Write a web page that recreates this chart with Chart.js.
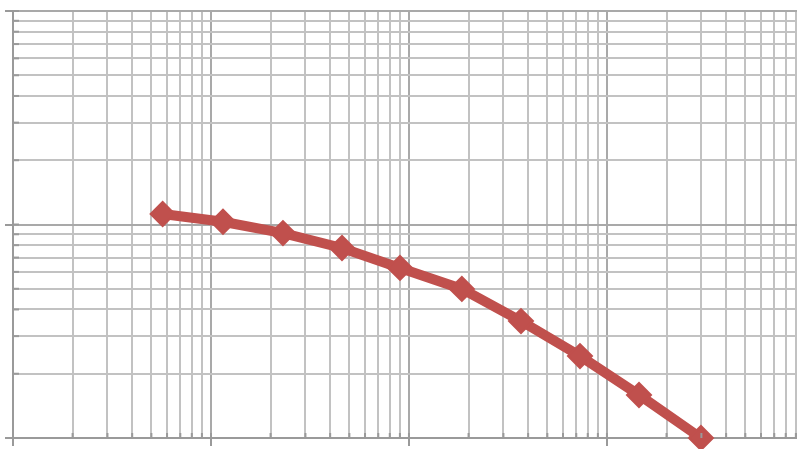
<!DOCTYPE html>
<html>
<head>
<meta charset="utf-8">
<script src="https://cdn.jsdelivr.net/npm/chart.js@4.4.1/dist/chart.umd.min.js"></script>
<style>
	html, body { margin: 0; padding: 0; background: #fff; overflow: hidden; }
	.chart-wrap { width: 797px; height: 449px; position: relative; overflow: hidden; }
	canvas { display: block; }
</style>
</head>
<body>
<div class="chart-wrap"><canvas id="chart" width="797" height="449"></canvas></div>
<script>
"use strict";

// values (log-log, no labels shown)
const xValues = [5.7, 11.5, 23.1, 45.9, 90.1, 185, 368, 731, 1452, 2985];
const yValues = [11.2, 10.3, 9.12, 7.76, 6.26, 4.99, 3.53, 2.42, 1.59, 1.0];
const xRange = [1, 9120];
const yRange = [1, 100];

const gridMinor = '#c2c2c2';
const gridMajor = '#a9a9a9';

// chart.js v4 puts an extra 1.5 tick in each decade, the original has 1..9 only
function dropHalfTicks(scale) {
	scale.ticks = scale.ticks.filter((t) => {
		const m = t.value / Math.pow(10, Math.floor(Math.log10(t.value)));
		return Math.abs(m - 1.5) > 1e-6;
	});
}

// little inside ticks on the minor lines, like the spreadsheet chart
const minorTicks = {
	id: 'minorTicks',
	afterDatasetsDraw(chart) {
		const { ctx, chartArea, scales } = chart;
		ctx.save();
		ctx.strokeStyle = '#9a9a9a';
		ctx.lineWidth = 2;
		scales.x.ticks.forEach((t) => {
			const px = scales.x.getPixelForValue(t.value);
			ctx.beginPath();
			ctx.moveTo(px, chartArea.bottom);
			ctx.lineTo(px, chartArea.bottom - 5);
			ctx.stroke();
		});
		scales.y.ticks.forEach((t) => {
			const py = scales.y.getPixelForValue(t.value);
			ctx.beginPath();
			ctx.moveTo(chartArea.left, py);
			ctx.lineTo(chartArea.left + 6, py);
			ctx.stroke();
		});
		ctx.restore();
	}
};

function eventHandler() {
	const data = {
		datasets: [{
			data: xValues.map((x, i) => ({ x: x, y: yValues[i] })),
			borderColor: '#c0504d',
			backgroundColor: '#c0504d',
			borderWidth: 10,
			pointStyle: 'rectRot',
			pointRadius: 12,
			pointBorderWidth: 2,
			pointBackgroundColor: '#c0504d',
			pointBorderColor: '#c0504d',
			tension: 0,
			clip: false
		}]
	};

	new Chart(document.getElementById('chart'), {
		type: 'scatter',
		data: data,
		options: {
			responsive: false,
			animation: false,
			showLine: true,
			layout: { autoPadding: false, padding: { left: 5, top: 11, right: 0, bottom: 3 } },
			plugins: {
				legend: { display: false },
				tooltip: { enabled: false }
			},
			scales: {
				x: {
					type: 'logarithmic',
					min: xRange[0],
					max: xRange[1],
					afterBuildTicks: dropHalfTicks,
					ticks: { display: false },
					border: { color: '#9a9a9a', width: 2 },
					grid: {
						lineWidth: 2,
						tickLength: 8,
						color: (c) => c.tick && c.tick.major ? gridMajor : gridMinor,
						tickColor: (c) => c.tick && c.tick.major ? '#9a9a9a' : 'rgba(0,0,0,0)'
					}
				},
				y: {
					type: 'logarithmic',
					min: yRange[0],
					max: yRange[1],
					afterBuildTicks: dropHalfTicks,
					ticks: { display: false },
					border: { color: '#9a9a9a', width: 2 },
					grid: {
						lineWidth: 2,
						tickLength: 8,
						color: (c) => c.tick && c.tick.major ? gridMajor : gridMinor,
						tickColor: (c) => c.tick && c.tick.major ? '#9a9a9a' : 'rgba(0,0,0,0)'
					}
				}
			}
		},
		plugins: [minorTicks]
	});
}

if (document.readyState !== 'loading') {
	eventHandler();
} else {
	document.addEventListener('DOMContentLoaded', eventHandler);
}
</script>
</body>
</html>
